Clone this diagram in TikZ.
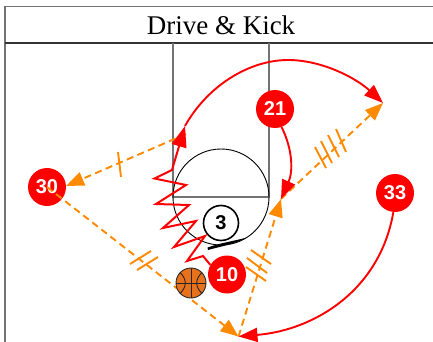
\documentclass[tikz,border=0pt]{standalone}
\usepackage{fontspec}
\setmainfont{Liberation Serif}
\newfontfamily\numfont{Liberation Sans}
\usetikzlibrary{arrows.meta}
\definecolor{pass}{HTML}{FF8A00}
\definecolor{ballc}{HTML}{E8721C}
\tikzset{
  x=1pt,y=-1pt,
  frameline/.style={draw=black!55,line width=1.7pt},
  player/.style={circle,fill=red,inner sep=0pt,minimum size=38pt,text=white,font=\numfont\fontsize{20}{20}\selectfont\bfseries},
  defender/.style={circle,draw=black,fill=white,line width=1.6pt,inner sep=0pt,minimum size=35pt,text=black,font=\numfont\fontsize{20}{20}\selectfont\bfseries},
  passline/.style={draw=pass,line width=1.9pt,dash pattern=on 7pt off 4.5pt,-{Triangle[length=18pt,width=14pt,fill=pass]}},
  tick/.style={draw=pass,line width=1.9pt},
  cutline/.style={draw=red,line width=1.9pt,-{Triangle[length=19pt,width=14pt,fill=red]}},
  zig/.style={draw=red,line width=2pt,line join=miter,-{Triangle[length=21pt,width=15pt,fill=red]}},
}
\begin{document}
\begin{tikzpicture}
\clip (0,0) rectangle (433,342);
% frame and court
\draw[frameline] (5,342) -- (5,6.5) -- (433,6.5);
\draw[draw=black!80,line width=2pt] (5,43) -- (433,43);
\node (title) at (221,25) {\fontsize{27}{27}\selectfont Drive \& Kick};
\draw[frameline,line width=1.4pt] (173,43) -- (173,197) -- (269,197) -- (269,43);
\draw[black,line width=.9pt] (221,197) circle (48);
% coordinates
\coordinate (wingL) at (186,134);
\coordinate (wingT) at (185,126);
\coordinate (arcTop) at (288,60);
\coordinate (corner) at (383,103);
\coordinate (elbow) at (281,199);
\coordinate (low) at (238.5,336.5);
% players
\node[player] (n30) at (47,187) {30};
\node[player] (n21) at (275,109) {21};
\node[player] (n33) at (395,193) {33};
\node[defender] (n3) at (221,223) {3};
% passes
\draw[passline] (n30.center) -- (low);
\draw[passline] (low) -- (elbow);
\draw[passline] (elbow) -- (corner);
\draw[passline] (wingL) -- (66,186);
% ticks
\draw[tick] (118,152) -- (121,177);
\draw[tick] (130,264) -- (151,251);
\draw[tick] (137,270) -- (158,257);
\draw[tick] (251,250) -- (271,264);
\draw[tick] (247,258) -- (267,273);
\draw[tick] (246,267) -- (266,281);
\draw[tick] (336,129) -- (346,152);
\draw[tick] (328,135) -- (339,157);
\draw[tick] (321,141) -- (332,163);
\draw[tick] (315,147) -- (326,168);
% ball
\node[circle,draw=black!85,fill=ballc,line width=.9pt,minimum size=30pt,inner sep=0pt] (ball) at (191,283) {};
\draw[black!85,line width=.9pt] (176,283) -- (206,283) (191,268) -- (191,298);
\draw[black!85,line width=.9pt] (180,272.5) .. controls (187,279) and (187,287) .. (180,293.5);
\draw[black!85,line width=.9pt] (202,272.5) .. controls (195,279) and (195,287) .. (202,293.5);
% screen
\fill[black] (208,250) .. controls (220,246.5) and (234,244.5) .. (247,237.5) .. controls (234,241) and (220,243) .. (207.5,247.5) -- cycle;
% ball handler and cuts
\node[player] (n10) at (227,274.5) {10};
\draw[cutline,-] (wingT) .. controls (208,85) and (250,60) .. (arcTop);
\draw[cutline] (arcTop) .. controls (322,60) and (356,78) .. (corner);
\draw[zig] (n10.150) -- (203,256) -- (187,261) -- (205,236) -- (174,247) -- (196,221) -- (163,228) -- (189,205) -- (156,204) -- (186,185) -- (154.5,178.5) -- (172,170) -- (wingT);
\draw[cutline] (n21.-70) .. controls (293,150) and (293,172) .. (elbow);
\draw[cutline] (n33.-95) .. controls (380,290) and (315,330) .. (low);
\end{tikzpicture}
\end{document}
